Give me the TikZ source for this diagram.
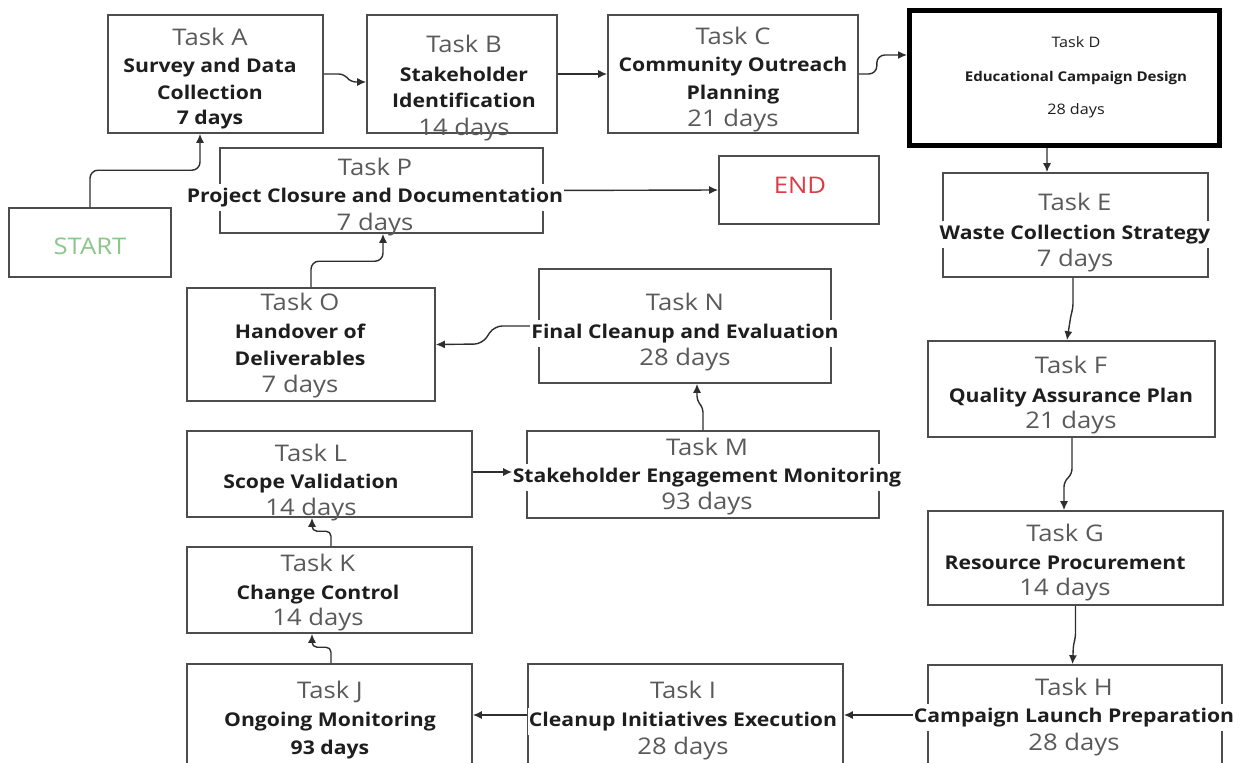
\documentclass[tikz,border=0pt]{standalone}
\usepackage{fontspec}
\setmainfont{Open Sans}[FakeStretch=1.12]
\usetikzlibrary{arrows.meta}

\definecolor{boxline}{HTML}{4D4D4D}
\definecolor{lblgray}{HTML}{5A5A5A}
\definecolor{ink}{HTML}{1E1E1E}
\definecolor{wire}{HTML}{2E2E2E}
\definecolor{startgreen}{HTML}{8CC68A}
\definecolor{endred}{HTML}{DC3C46}

\tikzset{
  box/.style={draw=boxline, line width=1.6bp, fill=white, inner sep=0pt},
  keybox/.style={draw=black, line width=5bp},
  lbl/.style={anchor=base, inner sep=0pt, text=lblgray, font=\fontsize{23}{26}\selectfont},
  ttl/.style={anchor=base, inner sep=0pt, text=ink, font=\fontsize{19}{22}\selectfont\bfseries},
  small/.style={anchor=base, inner sep=0pt, text=ink, font=\fontsize{14.5}{17}\selectfont},
  smallttl/.style={anchor=base, inner sep=0pt, text=ink, font=\fontsize{13.5}{16}\selectfont\bfseries},
  over/.style={fill=white, inner xsep=1bp, inner ysep=4bp},
  arr/.style={draw=wire, line width=1.4bp, -{Latex[length=9bp,width=8bp]}},
}

% rectangle node from its corner coordinates: [style]{name}{x1}{y1}{x2}{y2}
\newcommand\taskbox[6][]{%
  \pgfmathsetmacro\tbw{#5-#3}%
  \pgfmathsetmacro\tbh{#6-#4}%
  \node[box,#1,minimum width=\tbw bp,minimum height=\tbh bp] (#2) at ({(#3+#5)/2},{(#4+#6)/2}) {};}
% text line on a baseline: [style]{name}{x}{baseline y}{text}
\newcommand\putlabel[5][lbl]{\node[#1] (#2) at (#3,#4) {#5};}

\begin{document}
\begin{tikzpicture}[x=1bp,y=-1bp]
\useasboundingbox (0,0) rectangle (1251,763);
\clip (0,0) rectangle (1251,763);

% ---- boxes ----
\taskbox{START}{9}{208}{171}{277}
\taskbox{A}{108}{15}{323}{133}
\taskbox{B}{367}{15}{557}{133}
\taskbox{C}{608}{15}{858}{133}
\taskbox[keybox]{D}{909.5}{10.5}{1219.5}{145.5}
\taskbox{E}{943}{173}{1208}{277}
\taskbox{F}{928}{341}{1215}{437}
\taskbox{G}{928}{511}{1223}{605}
\taskbox{H}{928}{665}{1222}{800}
\taskbox{I}{528}{664}{843}{800}
\taskbox{J}{187}{664}{472}{800}
\taskbox{K}{187}{547}{472}{633}
\taskbox{L}{187}{431}{472}{517}
\taskbox{M}{527}{431}{879}{518}
\taskbox{N}{539}{269}{831}{383}
\taskbox{O}{187}{288}{435}{401}
\taskbox{P}{220}{148}{543}{233}
\taskbox{END}{719}{156}{879}{224}

% ---- connectors ----
\draw[arr, rounded corners=8bp] (START.north) -- ++(0,-37) -| ([xshift=-15.5bp]A.south);
\draw[arr, rounded corners=5bp] (A.east) -- ++(20,0) -- ++(7,8) -- ([yshift=-8bp]B.west);
\draw[arr] (B.east) -- (C.west);
\draw[arr, rounded corners=8bp] (C.east) -- ++(18,0) |- ([yshift=23bp]D.west);
\draw[arr] ([xshift=-17.5bp]D.south) -- ([xshift=-28.5bp]E.north);
\draw[arr, rounded corners=4bp] ([xshift=-2.5bp]E.south) -- ++(0,30) -- ++(-2,7) -- ([xshift=-4.5bp]F.north);
\draw[arr, rounded corners=5bp] ([xshift=0.5bp]F.south) -- ++(0,36) -- ++(-8,8) -- ([xshift=-11.5bp]G.north);
\draw[arr, rounded corners=4bp] (G.south) -- ++(0,32) -- ++(-2,6) -- ([xshift=-2.5bp]H.north);
\coordinate (rowHI) at (0,715);
\draw[arr] (H.west |- rowHI) -- (I.east |- rowHI);
\draw[arr] (I.west |- rowHI) -- (J.east |- rowHI);
\draw[arr, rounded corners=5bp] ([xshift=1.5bp]J.north) -- ++(0,-16) -| ([xshift=-17.5bp]K.south);
\draw[arr, rounded corners=5bp] ([xshift=1.5bp]K.north) -- ++(0,-15) -| ([xshift=-17.5bp]L.south);
\coordinate (rowLM) at (0,472);
\draw[arr] (L.east |- rowLM) -- ([xshift=-14bp]M.west |- rowLM);
\draw[arr, rounded corners=4bp] (M.north) -- ++(0,-22) -- ++(-6,-8) -- ([xshift=12bp]N.south);
\draw[arr, rounded corners=8bp] (N.west) -- ++(-44,0) -- ++(-12,18) -- (O.east);
\draw[arr, rounded corners=8bp] (O.north) -- ++(0,-26) -| ([xshift=1.5bp]P.south);
\draw[arr] (P.east) -- (END.west);

% ---- texts ----
\putlabel[lbl,text=startgreen]{START-t}{90}{254}{START}
\putlabel[lbl,text=endred]{END-t}{800}{193}{END}

\putlabel{A-t}{210}{46}{Task A}
\putlabel[ttl]{A-n1}{210}{73}{Survey and Data}
\putlabel[ttl]{A-n2}{210}{100}{Collection}
\putlabel[ttl]{A-d}{210}{125}{7 days}

\putlabel{B-t}{464}{53}{Task B}
\putlabel[ttl]{B-n1}{464}{82}{Stakeholder}
\putlabel[ttl]{B-n2}{464}{108}{Identification}
\putlabel{B-d}{464}{135}{14 days}

\putlabel{C-t}{733}{45}{Task C}
\putlabel[ttl]{C-n1}{733}{72}{Community Outreach}
\putlabel[ttl]{C-n2}{733}{100}{Planning}
\putlabel{C-d}{733}{126}{21 days}

\putlabel[small]{D-t}{1076}{48}{Task D}
\putlabel[smallttl]{D-n}{1076}{82}{Educational Campaign Design}
\putlabel[small]{D-d}{1076}{115}{28 days}

\putlabel{E-t}{1075}{210}{Task E}
\putlabel[ttl,over]{E-n}{1075}{239}{Waste Collection Strategy}
\putlabel{E-d}{1075}{266}{7 days}

\putlabel{F-t}{1071}{373}{Task F}
\putlabel[ttl]{F-n}{1071}{402}{Quality Assurance Plan}
\putlabel{F-d}{1071}{428}{21 days}

\putlabel{G-t}{1065}{541}{Task G}
\putlabel[ttl]{G-n}{1065}{569}{Resource Procurement}
\putlabel{G-d}{1065}{595}{14 days}

\putlabel{H-t}{1074}{695}{Task H}
\putlabel[ttl,over]{H-n}{1074}{722}{Campaign Launch Preparation}
\putlabel{H-d}{1074}{750}{28 days}

\putlabel{I-t}{683}{698}{Task I}
\putlabel[ttl,over]{I-n}{683}{726}{Cleanup Initiatives Execution}
\putlabel{I-d}{683}{754}{28 days}

\putlabel{J-t}{330}{698}{Task J}
\putlabel[ttl]{J-n}{330}{726}{Ongoing Monitoring}
\putlabel[ttl]{J-d}{330}{754}{93 days}

\putlabel{K-t}{318}{571}{Task K}
\putlabel[ttl]{K-n}{318}{599}{Change Control}
\putlabel{K-d}{318}{625}{14 days}

\putlabel{L-t}{311}{461}{Task L}
\putlabel[ttl]{L-n}{311}{488}{Scope Validation}
\putlabel{L-d}{311}{515}{14 days}

\putlabel{M-t}{707}{455}{Task M}
\putlabel[ttl,over]{M-n}{707}{482}{Stakeholder Engagement Monitoring}
\putlabel{M-d}{707}{509}{93 days}

\putlabel{N-t}{685}{310}{Task N}
\putlabel[ttl,over]{N-n}{685}{338}{Final Cleanup and Evaluation}
\putlabel{N-d}{685}{365}{28 days}

\putlabel{O-t}{300}{310}{Task O}
\putlabel[ttl]{O-n1}{300}{338}{Handover of}
\putlabel[ttl]{O-n2}{300}{365}{Deliverables}
\putlabel{O-d}{300}{392}{7 days}

\putlabel{P-t}{375}{175}{Task P}
\putlabel[ttl,over]{P-n}{375}{202}{Project Closure and Documentation}
\putlabel{P-d}{375}{230}{7 days}
\end{tikzpicture}
\end{document}
